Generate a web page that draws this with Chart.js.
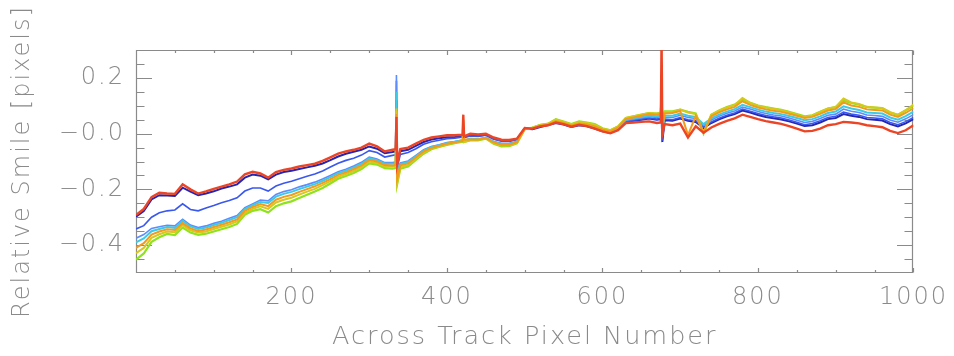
<!DOCTYPE html>
<html>
<head>
<meta charset="utf-8">
<script src="https://cdn.jsdelivr.net/npm/chart.js@4/dist/chart.umd.min.js"></script>
<style>
  html, body { margin: 0; padding: 0; background: #ffffff; }
  #chart { display: block; }
</style>
</head>
<body>
<canvas id="chart" width="954" height="356"></canvas>
<script>
// Across-track pixel positions where the smile was sampled
const pixels = [
  0, 10, 20, 30, 40, 50, 60, 70, 80, 90, 100, 110, 120, 130, 140, 150, 160, 170, 180, 190,
  200, 210, 220, 230, 240, 250, 260, 270, 280, 290, 300, 310, 320, 330, 334, 335, 336,
  340, 350, 360, 370, 380, 390, 400, 410, 420, 421, 422,
  430, 440, 450, 460, 470, 480, 490, 500, 510, 520, 530, 540, 550, 560, 570, 580, 590, 600,
  610, 620, 630, 640, 650, 660, 670, 675, 676, 677,
  680, 690, 700, 710, 720, 730, 740, 750, 760, 770, 780, 790, 800, 810, 820, 830, 840, 850,
  860, 870, 880, 890, 900, 910, 920, 930, 940, 950, 960, 970, 980, 990, 1000
];

// Relative smile per spectral band (pixels)
const smileRed = [
  -0.292, -0.270, -0.228, -0.212, -0.215, -0.216, -0.182, -0.200, -0.215, -0.207, -0.198, -0.190, -0.182, -0.172, -0.146, -0.137, -0.143, -0.158, -0.138, -0.130,
  -0.125, -0.118, -0.113, -0.108, -0.098, -0.085, -0.072, -0.064, -0.058, -0.050, -0.036, -0.046, -0.064, -0.058, -0.056, 0.060, -0.110,
  -0.055, -0.050, -0.036, -0.022, -0.014, -0.010, -0.006, -0.006, -0.004, 0.068, -0.010,
  0.000, -0.003, 0.000, -0.014, -0.022, -0.023, -0.018, 0.020, 0.018, 0.026, 0.030, 0.040, 0.034, 0.025, 0.032, 0.027, 0.018, 0.008,
  0.001, 0.012, 0.038, 0.040, 0.042, 0.044, 0.038, 0.040, 0.340, 0.000,
  0.034, 0.030, 0.036, -0.014, 0.026, 0.003, 0.022, 0.035, 0.046, 0.055, 0.068, 0.060, 0.052, 0.045, 0.040, 0.035, 0.027, 0.018,
  0.008, 0.010, 0.018, 0.030, 0.034, 0.042, 0.040, 0.037, 0.030, 0.027, 0.023, 0.010, 0.002, 0.012, 0.030
];
const smileOrange = [
  -0.410, -0.393, -0.362, -0.351, -0.343, -0.346, -0.321, -0.340, -0.349, -0.344, -0.335, -0.327, -0.318, -0.308, -0.277, -0.263, -0.253, -0.260, -0.237, -0.227,
  -0.220, -0.209, -0.199, -0.189, -0.177, -0.163, -0.148, -0.139, -0.127, -0.114, -0.094, -0.100, -0.113, -0.114, -0.112, 0.070, -0.160,
  -0.114, -0.107, -0.085, -0.064, -0.051, -0.044, -0.036, -0.031, -0.026, 0.050, -0.020,
  -0.021, -0.021, -0.016, -0.031, -0.040, -0.040, -0.031, 0.018, 0.019, 0.028, 0.033, 0.044, 0.038, 0.029, 0.036, 0.033, 0.026, 0.014,
  0.008, 0.021, 0.052, 0.058, 0.064, 0.070, 0.068, 0.071, 0.210, 0.020,
  0.072, 0.074, 0.081, -0.005, 0.064, 0.006, 0.062, 0.076, 0.087, 0.096, 0.116, 0.103, 0.094, 0.087, 0.082, 0.078, 0.071, 0.064,
  0.056, 0.060, 0.071, 0.083, 0.088, 0.112, 0.101, 0.096, 0.087, 0.085, 0.083, 0.068, 0.060, 0.074, 0.091
];
const smileYellow = [
  -0.429, -0.410, -0.374, -0.361, -0.351, -0.354, -0.328, -0.347, -0.355, -0.351, -0.342, -0.334, -0.326, -0.315, -0.284, -0.270, -0.261, -0.270, -0.247, -0.237,
  -0.230, -0.219, -0.208, -0.198, -0.185, -0.170, -0.155, -0.145, -0.134, -0.120, -0.100, -0.105, -0.118, -0.119, -0.117, 0.090, -0.175,
  -0.120, -0.112, -0.089, -0.068, -0.053, -0.046, -0.038, -0.032, -0.027, 0.020, -0.030,
  -0.022, -0.022, -0.017, -0.034, -0.043, -0.042, -0.033, 0.016, 0.022, 0.031, 0.036, 0.050, 0.042, 0.033, 0.042, 0.038, 0.032, 0.018,
  0.012, 0.026, 0.056, 0.062, 0.068, 0.074, 0.072, 0.075, 0.160, 0.040,
  0.078, 0.078, 0.086, 0.076, 0.070, 0.004, 0.068, 0.082, 0.094, 0.103, 0.128, 0.110, 0.100, 0.094, 0.089, 0.084, 0.077, 0.068,
  0.060, 0.065, 0.078, 0.090, 0.096, 0.126, 0.112, 0.106, 0.096, 0.094, 0.092, 0.077, 0.068, 0.084, 0.104
];
const smileGreen = [
  -0.452, -0.430, -0.388, -0.372, -0.360, -0.364, -0.337, -0.355, -0.363, -0.359, -0.351, -0.343, -0.335, -0.324, -0.291, -0.277, -0.271, -0.283, -0.260, -0.250,
  -0.243, -0.231, -0.219, -0.208, -0.195, -0.179, -0.162, -0.152, -0.141, -0.127, -0.107, -0.111, -0.124, -0.126, -0.124, 0.080, -0.180,
  -0.126, -0.118, -0.094, -0.072, -0.056, -0.048, -0.041, -0.034, -0.029, -0.024, -0.030,
  -0.024, -0.024, -0.018, -0.036, -0.046, -0.045, -0.035, 0.016, 0.021, 0.032, 0.035, 0.052, 0.043, 0.034, 0.044, 0.040, 0.034, 0.019,
  0.012, 0.026, 0.056, 0.062, 0.068, 0.074, 0.072, 0.076, 0.120, 0.050,
  0.080, 0.080, 0.086, 0.078, 0.072, 0.000, 0.068, 0.083, 0.095, 0.104, 0.122, 0.111, 0.101, 0.095, 0.090, 0.085, 0.078, 0.070,
  0.062, 0.066, 0.078, 0.090, 0.095, 0.118, 0.110, 0.104, 0.095, 0.093, 0.091, 0.076, 0.067, 0.083, 0.100
];
const smileCyan = [
  -0.390, -0.376, -0.350, -0.342, -0.335, -0.338, -0.313, -0.333, -0.342, -0.337, -0.328, -0.320, -0.310, -0.300, -0.271, -0.257, -0.245, -0.249, -0.226, -0.216,
  -0.209, -0.199, -0.190, -0.181, -0.169, -0.156, -0.142, -0.133, -0.121, -0.108, -0.089, -0.095, -0.108, -0.108, -0.106, 0.150, -0.150,
  -0.109, -0.102, -0.081, -0.061, -0.048, -0.042, -0.034, -0.029, -0.024, -0.019, -0.025,
  -0.019, -0.020, -0.015, -0.030, -0.037, -0.037, -0.029, 0.017, 0.021, 0.030, 0.034, 0.045, 0.039, 0.030, 0.037, 0.033, 0.026, 0.015,
  0.008, 0.021, 0.050, 0.055, 0.060, 0.065, 0.062, 0.065, 0.100, 0.010,
  0.064, 0.064, 0.072, 0.064, 0.060, 0.034, 0.055, 0.068, 0.079, 0.088, 0.103, 0.095, 0.086, 0.079, 0.074, 0.070, 0.063, 0.056,
  0.048, 0.052, 0.062, 0.074, 0.079, 0.098, 0.090, 0.085, 0.076, 0.074, 0.072, 0.058, 0.050, 0.063, 0.079
];
const smileLightBlue = [
  -0.375, -0.362, -0.340, -0.334, -0.329, -0.331, -0.307, -0.328, -0.337, -0.331, -0.322, -0.314, -0.304, -0.294, -0.266, -0.252, -0.238, -0.241, -0.218, -0.208,
  -0.201, -0.191, -0.183, -0.174, -0.163, -0.150, -0.137, -0.128, -0.116, -0.103, -0.084, -0.091, -0.104, -0.104, -0.102, 0.210, -0.130,
  -0.105, -0.098, -0.078, -0.058, -0.046, -0.040, -0.032, -0.028, -0.023, -0.018, -0.024,
  -0.018, -0.019, -0.014, -0.028, -0.035, -0.035, -0.028, 0.016, 0.020, 0.028, 0.032, 0.043, 0.037, 0.028, 0.035, 0.031, 0.024, 0.013,
  0.007, 0.019, 0.048, 0.052, 0.056, 0.061, 0.058, 0.061, 0.080, -0.010,
  0.058, 0.058, 0.066, 0.058, 0.054, 0.030, 0.049, 0.062, 0.073, 0.081, 0.095, 0.088, 0.079, 0.072, 0.067, 0.063, 0.056, 0.048,
  0.040, 0.044, 0.054, 0.066, 0.070, 0.088, 0.080, 0.076, 0.067, 0.065, 0.062, 0.049, 0.041, 0.053, 0.068
];
const smileBlue = [
  -0.342, -0.330, -0.300, -0.284, -0.277, -0.274, -0.252, -0.272, -0.277, -0.267, -0.258, -0.248, -0.240, -0.230, -0.206, -0.195, -0.195, -0.206, -0.188, -0.178,
  -0.171, -0.162, -0.153, -0.145, -0.134, -0.120, -0.106, -0.096, -0.088, -0.077, -0.061, -0.068, -0.084, -0.078, -0.076, 0.190, -0.120,
  -0.075, -0.068, -0.054, -0.038, -0.029, -0.024, -0.018, -0.016, -0.012, -0.007, -0.014,
  -0.008, -0.010, -0.006, -0.020, -0.027, -0.027, -0.021, 0.020, 0.019, 0.027, 0.033, 0.041, 0.035, 0.027, 0.033, 0.029, 0.020, 0.010,
  0.004, 0.016, 0.044, 0.048, 0.052, 0.056, 0.052, 0.055, 0.070, -0.025,
  0.052, 0.050, 0.058, 0.050, 0.046, 0.024, 0.042, 0.055, 0.066, 0.074, 0.088, 0.080, 0.072, 0.065, 0.060, 0.056, 0.049, 0.041,
  0.032, 0.036, 0.046, 0.058, 0.062, 0.077, 0.070, 0.066, 0.058, 0.056, 0.053, 0.040, 0.032, 0.043, 0.058
];
const smileNavy = [
  -0.298, -0.278, -0.236, -0.221, -0.222, -0.224, -0.194, -0.208, -0.221, -0.215, -0.207, -0.197, -0.190, -0.182, -0.158, -0.147, -0.151, -0.164, -0.147, -0.138,
  -0.133, -0.127, -0.121, -0.115, -0.107, -0.095, -0.082, -0.072, -0.065, -0.058, -0.046, -0.054, -0.070, -0.066, -0.064, 0.120, -0.100,
  -0.063, -0.058, -0.044, -0.030, -0.021, -0.017, -0.013, -0.012, -0.010, -0.005, -0.012,
  -0.006, -0.008, -0.004, -0.018, -0.025, -0.026, -0.020, 0.018, 0.016, 0.024, 0.031, 0.038, 0.033, 0.024, 0.030, 0.026, 0.018, 0.008,
  0.002, 0.014, 0.042, 0.046, 0.050, 0.054, 0.050, 0.052, 0.065, -0.030,
  0.048, 0.046, 0.054, 0.046, 0.042, 0.020, 0.038, 0.051, 0.062, 0.070, 0.083, 0.076, 0.067, 0.060, 0.055, 0.051, 0.044, 0.036,
  0.027, 0.030, 0.040, 0.052, 0.056, 0.070, 0.064, 0.060, 0.052, 0.050, 0.047, 0.034, 0.026, 0.037, 0.052
];

// Axis tick values and labels
const xTickValues = [200, 400, 600, 800, 1000];
const xMinorTicks = [50, 100, 150, 250, 300, 350, 450, 500, 550, 650, 700, 750, 850, 900, 950];
const yTickValues = [-0.4, -0.2, 0, 0.2];
const yTickLabels = ['\u22120.4', '\u22120.2', '\u22120.0', '0.2'];
const yMinorTicks = [-0.45, -0.35, -0.3, -0.25, -0.15, -0.1, -0.05, 0.05, 0.1, 0.15, 0.25];

const INK = '#8a8a8a';
const FONT = "'DejaVu Sans', sans-serif";

// Bands drawn red first so it ends up on top of the stack
const bands = [
  { data: smileRed,       color: '#ec4526', width: 2.4 },
  { data: smileOrange,    color: '#f29a1c', width: 2.0 },
  { data: smileYellow,    color: '#d6c81c', width: 2.0 },
  { data: smileGreen,     color: '#8ee21e', width: 2.2 },
  { data: smileCyan,      color: '#3ccbe6', width: 2.0 },
  { data: smileLightBlue, color: '#5c8cff', width: 1.6 },
  { data: smileBlue,      color: '#3a58ee', width: 1.6 },
  { data: smileNavy,      color: '#2626b0', width: 2.0 }
];

// IDL-style box frame with inward ticks on all four sides
const frameTicks = {
  id: 'frameTicks',
  beforeDraw(chart) {
    chart.ctx.letterSpacing = '2px';
  },
  beforeDatasetsDraw(chart) {
    const { ctx, chartArea: a, scales: { x, y } } = chart;
    const L = Math.round(a.left) + 0.5, R = Math.round(a.right) - 0.5;
    const T = Math.round(a.top) + 0.5, B = Math.round(a.bottom) - 0.5;
    ctx.save();
    ctx.strokeStyle = INK;
    ctx.lineWidth = 1.2;
    ctx.beginPath();
    ctx.rect(L, T, R - L, B - T);
    const yTick = (v, len) => {
      const py = Math.round(y.getPixelForValue(v)) + 0.5;
      ctx.moveTo(L, py); ctx.lineTo(L + len, py);
      ctx.moveTo(R, py); ctx.lineTo(R - len, py);
    };
    const xTick = (v, len) => {
      const px = Math.round(x.getPixelForValue(v)) + 0.5;
      ctx.moveTo(px, B); ctx.lineTo(px, B - len);
      ctx.moveTo(px, T); ctx.lineTo(px, T + len);
    };
    yTickValues.forEach(v => yTick(v, 15.5));
    yMinorTicks.forEach(v => yTick(v, 8));
    xTickValues.forEach(v => xTick(v, 4.5));
    xMinorTicks.forEach(v => xTick(v, 2.5));
    ctx.stroke();
    ctx.restore();
  }
};

new Chart(document.getElementById('chart'), {
  type: 'line',
  data: {
    datasets: bands.map(b => ({
      data: pixels.map((p, i) => ({ x: p, y: b.data[i] })),
      borderColor: b.color,
      borderWidth: b.width,
      borderJoinStyle: 'miter',
      pointRadius: 0,
      tension: 0,
      fill: false
    }))
  },
  options: {
    responsive: false,
    animation: false,
    devicePixelRatio: 1,
    layout: { padding: { top: 50, right: 40, bottom: 0, left: 0 } },
    plugins: { legend: { display: false }, tooltip: { enabled: false } },
    scales: {
      x: {
        type: 'linear',
        min: 0,
        max: 1000,
        grid: { display: false, drawTicks: false },
        border: { display: false },
        afterBuildTicks: s => { s.ticks = xTickValues.map(v => ({ value: v })); },
        afterFit: s => { s.height = 83; },
        ticks: {
          autoSkip: false,
          maxRotation: 0,
          padding: 10,
          color: INK,
          font: { family: FONT, size: 24, weight: 200 },
          callback: v => String(v)
        },
        title: {
          display: true,
          text: 'Across Track Pixel Number',
          color: INK,
          font: { family: FONT, size: 25.5, weight: 200, lineHeight: 1.2 },
          padding: { top: 0, bottom: 3 }
        }
      },
      y: {
        type: 'linear',
        min: -0.5,
        max: 0.3,
        grid: { display: false, drawTicks: false },
        border: { display: false },
        afterBuildTicks: s => { s.ticks = yTickValues.map(v => ({ value: v })); },
        afterFit: s => { s.width = 136; },
        ticks: {
          padding: 11,
          color: INK,
          font: { family: FONT, size: 24, weight: 200 },
          callback: (v, i) => yTickLabels[i]
        },
        title: {
          display: true,
          text: 'Relative Smile [pixels]',
          color: INK,
          font: { family: FONT, size: 24, weight: 200, lineHeight: 1.2 },
          padding: { top: 8, bottom: 0 }
        }
      }
    }
  },
  plugins: [frameTicks]
});
</script>
</body>
</html>
